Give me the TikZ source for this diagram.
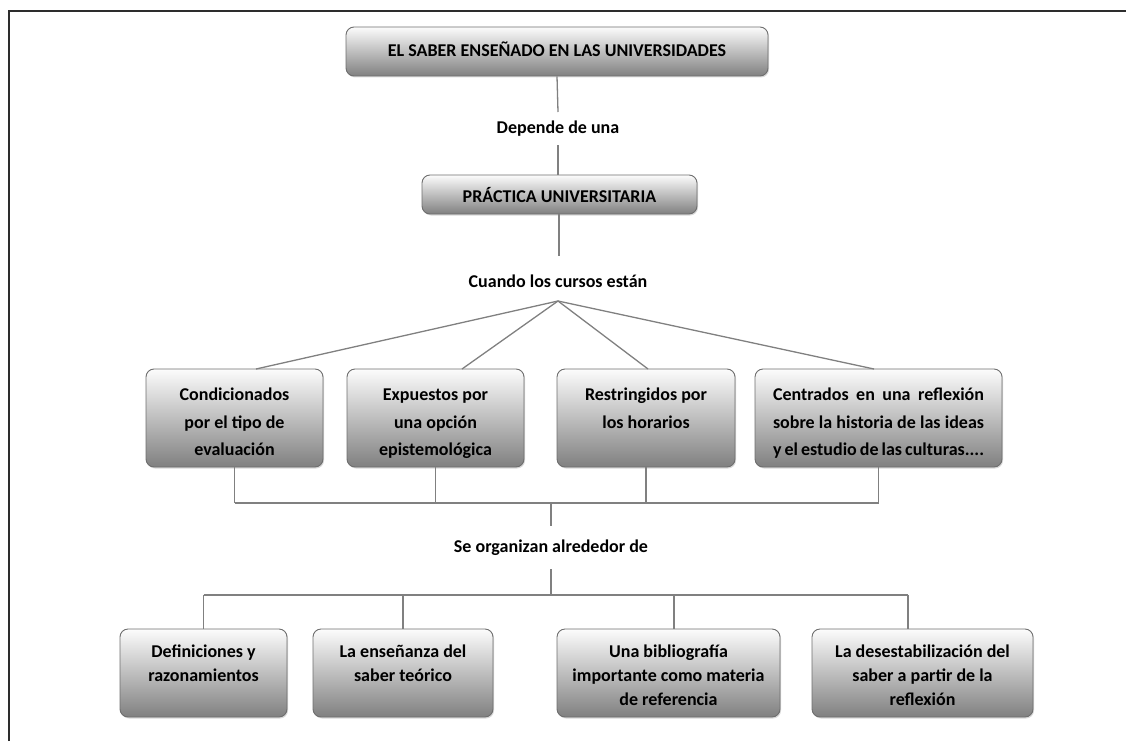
\documentclass[tikz,border=0pt]{standalone}
\usepackage{fontspec}
\setmainfont{Carlito}
\usetikzlibrary{shadows}
\definecolor{boxedge}{RGB}{110,110,110}
\definecolor{boxtop}{RGB}{252,252,252}
\definecolor{boxbot}{RGB}{128,128,128}
\definecolor{linkc}{RGB}{128,128,128}
\definecolor{framec}{RGB}{45,45,45}
\begin{document}
\begin{tikzpicture}[x=1pt,y=-1pt,
  box/.style={draw=boxedge,line width=0.9pt,rounded corners=8pt,top color=boxtop,bottom color=boxbot,inner sep=0pt,
    drop shadow={shadow xshift=1pt,shadow yshift=-1.5pt,opacity=0.3}},
  txta/.style={font=\fontsize{18}{27.5}\selectfont\bfseries,inner sep=0pt,align=center,anchor=north},
  txtb/.style={font=\fontsize{18}{24}\selectfont\bfseries,inner sep=0pt,align=center,anchor=north},
  lbl/.style={font=\fontsize{18}{22}\selectfont\bfseries,inner sep=0pt,anchor=base},
  link/.style={draw=linkc,line width=1.3pt},
  frameline/.style={draw=framec,line width=1.5pt}]
\useasboundingbox (0,0) rectangle (1126,741);
\draw[frameline] (9,741) -- (9,11) -- (1126,11);

% boxes
\node[box,minimum width=422pt,minimum height=49pt] (top) at (557,51.5) {};
\node[box,minimum width=275pt,minimum height=39pt] (prac) at (559.5,194.5) {};
\node[box,minimum width=177pt,minimum height=98pt] (A) at (234.5,418) {};
\node[box,minimum width=177pt,minimum height=98pt] (B) at (435.5,418) {};
\node[box,minimum width=178pt,minimum height=98pt] (C) at (646,418) {};
\node[box,minimum width=247pt,minimum height=98pt] (D) at (878.5,418) {};
\node[box,minimum width=167pt,minimum height=88pt] (E) at (203.5,673) {};
\node[box,minimum width=180pt,minimum height=88pt] (F) at (403,673) {};
\node[box,minimum width=223pt,minimum height=88pt] (G) at (668.5,673) {};
\node[box,minimum width=221pt,minimum height=88pt] (H) at (922.5,673) {};

% texts
\node[lbl] (topt) at (557,57) {EL SABER ENSEÑADO EN LAS UNIVERSIDADES};
\node[lbl] (pract) at (559.5,202) {PRÁCTICA UNIVERSITARIA};
\node[lbl] (dep) at (558,133) {Depende de una};
\node[lbl] (cua) at (558,287) {Cuando los cursos están};
\node[lbl] (seo) at (551,552) {Se organizan alrededor de};

\node[txta] (At) at (234.5,385.5) {\vphantom{Á}Condicionados\\por el tipo de\\evaluación};
\node[txta] (Bt) at (435.5,385.5) {\vphantom{Á}Expuestos por\\una opción\\epistemológica};
\node[txta] (Ct) at (646,385.5) {\vphantom{Á}Restringidos por\\los horarios};
\node[txta,align=left] (Dt) at (878.5,385.5) {\parbox[t]{211pt}{\vphantom{Á}\fontsize{18}{27.5}\selectfont\bfseries Centrados en una reflexión\linebreak sobre la historia de las ideas\linebreak y el estudio de las culturas....}};
\node[txtb] (Et) at (203.5,642) {\vphantom{Á}Definiciones y\\razonamientos};
\node[txtb] (Ft) at (403,642) {\vphantom{Á}La enseñanza del\\saber teórico};
\node[txtb] (Gt) at (668.5,642) {\vphantom{Á}Una bibliografía\\importante como materia\\de referencia};
\node[txtb] (Ht) at (922.5,642) {\vphantom{Á}La desestabilización del\\saber a partir de la\\reflexión};

% connectors
\coordinate (d1) at (558,112);
\coordinate (d2) at (558,145);
\draw[link] (top.south) -- (d1);
\draw[link] (d2) -- (prac.north -| d2);
\coordinate (c1) at (559,256);
\draw[link] (prac.south -| c1) -- (c1);
\coordinate (apex) at (558,301);
\coordinate (fa) at (256,369);
\coordinate (fb) at (462,369);
\coordinate (fc) at (648,369);
\coordinate (fd) at (874,369);
\draw[link] (apex) -- (fa);
\draw[link] (apex) -- (fb);
\draw[link] (apex) -- (fc);
\draw[link] (apex) -- (fd);

\coordinate (bus1) at (0,503);
\draw[link] (A.south) -- (A.south |- bus1);
\draw[link] (B.south) -- (B.south |- bus1);
\draw[link] (C.south) -- (C.south |- bus1);
\draw[link] (D.south) -- (D.south |- bus1);
\draw[link] (A.south |- bus1) -- (D.south |- bus1);
\coordinate (s1) at (551,503);
\coordinate (s2) at (551,526);
\coordinate (s3) at (551,569);
\coordinate (s4) at (551,595);
\draw[link] (s1) -- (s2);
\draw[link] (s3) -- (s4);

\coordinate (je) at (203.5,595);
\coordinate (jf) at (403,595);
\coordinate (jg) at (674,595);
\coordinate (jh) at (908,595);
\draw[link] (je) -- (jh);
\draw[link] (je) -- (E.north);
\draw[link] (jf) -- (F.north);
\draw[link] (jg) -- (jg |- G.north);
\draw[link] (jh) -- (jh |- H.north);
\end{tikzpicture}
\end{document}
